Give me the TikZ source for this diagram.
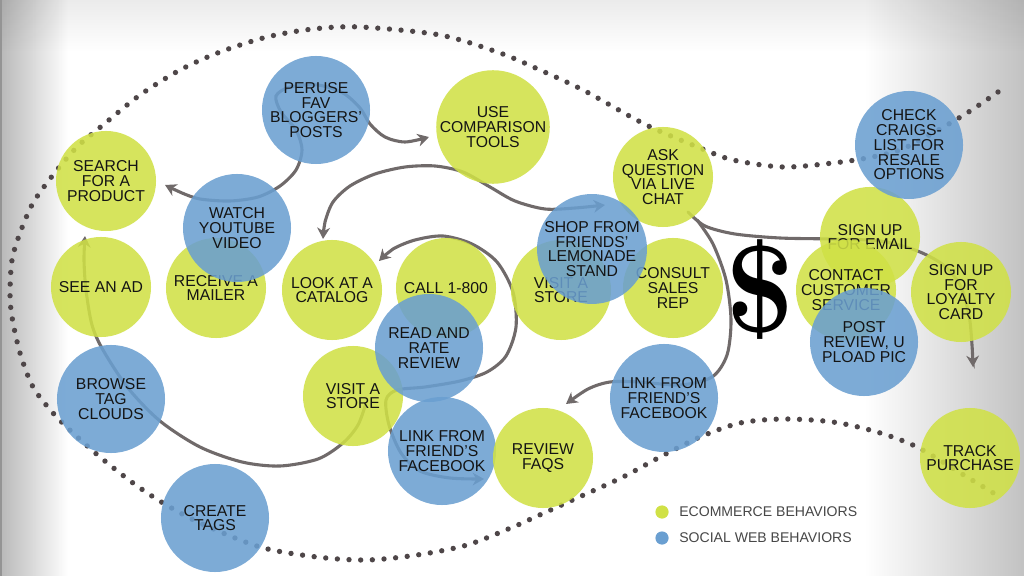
\documentclass[tikz,border=0pt]{standalone}
\usepackage{fontspec}
\newfontfamily\lab{Liberation Sans}
\usetikzlibrary{arrows.meta,calc,fadings}
\pgfdeclarelayer{pagebg}
\pgfdeclarelayer{links}
\pgfsetlayers{pagebg,links,main}
\definecolor{ecogreen}{RGB}{208,225,70}
\definecolor{socblue}{RGB}{106,159,209}
\definecolor{linkgray}{RGB}{112,106,106}
\definecolor{dotgray}{RGB}{78,70,72}
\tikzset{
  bub/.style={circle, inner sep=0pt, fill opacity=0.87, text opacity=1, align=center,
              font=\lab\fontsize{11.2}{10.5}\selectfont, text=black!92},
  eco/.style={bub, fill=ecogreen, minimum size=2.5cm},
  soc/.style={bub, fill=socblue, minimum size=2.7cm},
  link/.style={draw=linkgray, line width=2.2pt, line cap=round},
  dotline/.style={draw=dotgray, line width=3.8pt, line cap=round, dash pattern=on 0pt off 8.3pt},
  legtext/.style={font=\lab\fontsize{10}{12}\selectfont, text=black!72, anchor=west, inner sep=0pt},
  legdot/.style={circle, inner sep=0pt, minimum size=0.33cm}
}
\begin{document}
\begin{tikzpicture}[x=0.025cm, y=-0.025cm, >={Stealth[length=8pt,width=9pt,inset=2.5pt]}]
\useasboundingbox (0,0) rectangle (1024,576);
\begin{pgfonlayer}{pagebg}
  \fill[white] (0,0) rectangle (1024,576);
  \begin{scope}[x=1cm, y=1cm]
    \fill[black, fill opacity=0.28, path fading=east] (0,0) rectangle (1.7,-14.4);
    \fill[black, fill opacity=0.24, path fading=west] (21.6,0) rectangle (25.6,-14.4);
    \fill[black, fill opacity=0.08, path fading=south] (0,0) rectangle (25.6,-1.3);
    \fill[black!42] (0,0) rectangle (0.05,-14.4);
  \end{scope}
\end{pgfonlayer}

% bubbles (drawing order gives the overlaps)
\node[soc] (peruse)  at (316,110) {PERUSE\\FAV\\BLOGGERS’\\POSTS};
\node[eco] (usecomp) at (493,127) {USE\\COMPARISON\\TOOLS};
\node[eco] (search)  at (106,181) {SEARCH\\FOR A\\PRODUCT};
\node[eco] (seead)   at (101,287) {SEE AN AD};
\node[eco] (mailer)  at (216,288) {RECEIVE A\\MAILER};
\node[soc] (youtube) at (237,228) {WATCH\\YOUTUBE\\VIDEO};
\node[eco] (catalog) at (332,290) {LOOK AT A\\CATALOG};
\node[eco] (call)    at (446,288) {CALL 1-800};
\node[eco] (visitL)  at (353,396) {VISIT A\\STORE};
\node[soc] (read)    at (429,348) {READ AND\\RATE\\REVIEW};
\node[soc] (linkL)   at (442,451) {LINK FROM\\FRIEND’S\\FACEBOOK};
\node[eco] (faqs)    at (543,458) {REVIEW\\FAQS};
\node[soc] (browse)  at (111,399) {BROWSE\\TAG\\CLOUDS};
\node[soc] (create)  at (215,518) {CREATE\\TAGS};
\node[eco] (visitM)  at (561,290) {VISIT A\\STORE};
\node[eco] (consult) at (673,288) {CONSULT\\SALES\\REP};
\node[eco] (ask)     at (663,177) {ASK\\QUESTION\\VIA LIVE\\CHAT};
\node[soc] (shop)    at (592,249) {SHOP FROM\\FRIENDS’\\LEMONADE\\STAND};
\node[soc] (linkR)   at (664,398) {LINK FROM\\FRIEND’S\\FACEBOOK};
\node[eco] (email)   at (870,237) {SIGN UP\\FOR EMAIL};
\node[soc] (craigs)  at (909,145) {CHECK\\CRAIGS-\\LIST FOR\\RESALE\\OPTIONS};
\node[eco] (contact) at (846,290) {CONTACT\\CUSTOMER\\SERVICE};
\node[soc] (post)    at (864,342) {POST\\REVIEW, U\\PLOAD PIC};
\node[eco] (loyalty) at (961,292) {SIGN UP\\FOR\\LOYALTY\\CARD};
\node[eco] (track)   at (970,458) {TRACK\\PURCHASE};
\node[inner sep=0pt, font=\fontsize{88}{88}\selectfont\bfseries] (dollar) at (760,290) {\$};

% legend
\node[legdot, fill=ecogreen] (lgE) at (662,512) {};
\node[legtext] (ltE) at (679,512) {ECOMMERCE BEHAVIORS};
\node[legdot, fill=socblue] (lgS) at (662,538) {};
\node[legtext] (ltS) at (679,538) {SOCIAL WEB BEHAVIORS};

% free ends of the connectors
\coordinate (tipSearch)    at (165,185);
\coordinate (tipComp)      at (429,137);
\coordinate (tipCatTop)    at (323,239);
\coordinate (tipShop)      at (605,205);
\coordinate (tipCatRight)  at (379,261);
\coordinate (tipFaqsL)     at (484,479);
\coordinate (tipSearchLow) at (85,236);
\coordinate (visitTail)    at (366,403);
\coordinate (askA)         at (688,212);
\coordinate (askB)         at (697,220);
\coordinate (tipLoyal)     at (973,367);
\coordinate (tipFaqsR)     at (566,404);

\begin{pgfonlayer}{links}
  % dotted journey line
  \draw[dotline] plot[smooth] coordinates {(998,92) (967,113) (933,133) (900,150) (867,158) (833,163) (783,167) (733,160) (700,148) (657,130) (633,118) (583,90) (540,70) (500,53) (440,35) (360,27) (313,29) (267,37) (220,52) (180,70) (140,95) (103,125) (77,147) (53,175) (33,203) (20,233) (12,260) (10,293) (12,317) (20,353) (33,387) (53,413) (73,433) (100,457) (133,483) (163,503) (200,523) (260,547) (317,557) (367,560) (417,555) (467,545) (513,527) (533,518) (577,498) (623,477) (660,457) (700,437) (740,423) (783,419) (833,422) (877,432) (917,447) (967,477) (1000,497)};
  % blogger loop: search <-> comparison tools
  \draw[link,<->] plot[smooth] coordinates {(tipSearch) (182,193) (200,199) (230,201) (258,197) (280,186) (296,170) (302,150) (296,130) (281,112) (276,96) (290,87) (318,85) (343,93) (360,108) (370,124) (385,137) (405,142) (tipComp)};
  % catalog <-> shop from friends
  \draw[link,<->] plot[smooth] coordinates {(tipCatTop) (325,222) (333,202) (350,186) (375,174) (405,167) (435,166) (463,172) (490,187) (515,201) (545,209) (575,208) (tipShop)};
  % catalog <-> review faqs, looping round call 1-800
  \draw[link,<->] plot[smooth] coordinates {(tipCatRight) (393,249) (415,240) (443,236) (472,244) (497,262) (513,292) (516,327) (506,356) (487,372) (460,381) (425,387) (397,390) (386,400) (389,425) (401,453) (420,471) (450,478) (tipFaqsL)};
  % visit a store -> search for a product
  \draw[link,->] plot[smooth] coordinates {(visitTail) (358,425) (343,443) (318,459) (280,466) (242,462) (200,447) (160,421) (128,388) (103,350) (92,325) (86,290) (84,260) (tipSearchLow)};
  % ask question -> loyalty card
  \draw[link,->] plot[smooth] coordinates {(askA) (705,226) (735,234) (780,238) (830,239) (880,241) (915,250) (942,264) (960,285) (969,315) (972,345) (tipLoyal)};
  % ask question -> review faqs
  \draw[link,->] plot[smooth] coordinates {(askB) (713,244) (726,280) (731,320) (727,355) (712,377) (680,385) (640,382) (610,382) (588,389) (tipFaqsR)};
\end{pgfonlayer}
\end{tikzpicture}
\end{document}
